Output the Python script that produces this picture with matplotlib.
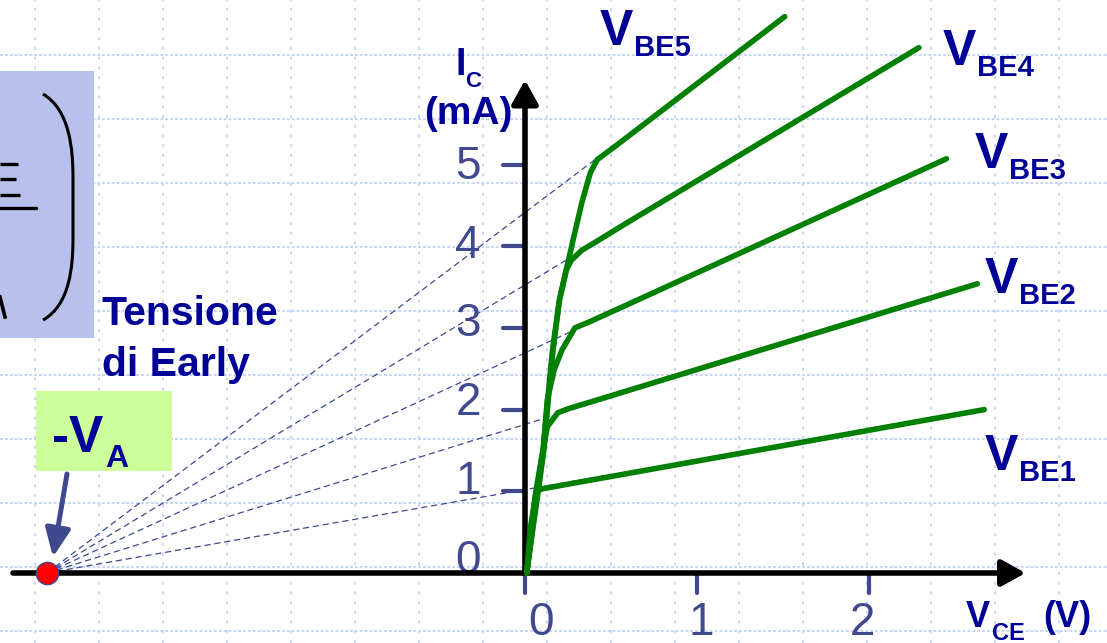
import matplotlib
matplotlib.use('Agg')
import matplotlib.pyplot as plt
import numpy as np
from matplotlib.path import Path
from matplotlib.patches import PathPatch, Rectangle

plt.rcParams['font.family'] = ['Liberation Sans', 'DejaVu Sans']

# tensione di Early (V)
VA = 2.78

# curve I_C(V_CE): V in volt, I in mA
vbe1_v = [0.01, 0.03, 0.065, 0.10, 0.23, 0.47, 2.67]
vbe1_i = [0.0, 0.53, 1.0, 1.03, 1.08, 1.17, 2.0]
vbe2_v = [0.01, 0.035, 0.065, 0.10, 0.13, 0.19, 0.25, 0.47, 2.63]
vbe2_i = [0.0, 0.53, 1.02, 1.45, 1.79, 1.96, 2.01, 2.15, 3.54]
vbe3_v = [0.01, 0.04, 0.07, 0.105, 0.13, 0.17, 0.215, 0.29, 0.37, 0.58, 2.45]
vbe3_i = [0.0, 0.53, 1.02, 1.51, 2.12, 2.49, 2.73, 3.0, 3.07, 3.27, 5.07]
vbe4_v = [0.01, 0.042, 0.075, 0.107, 0.132, 0.16, 0.2, 0.24, 0.27, 0.33, 0.41, 0.58, 2.29]
vbe4_i = [0.0, 0.53, 1.02, 1.51, 2.12, 2.73, 3.34, 3.71, 3.83, 3.95, 4.05, 4.27, 6.43]
vbe5_v = [0.01, 0.045, 0.078, 0.11, 0.135, 0.163, 0.2, 0.24, 0.28, 0.33, 0.38, 0.42, 0.51, 1.51]
vbe5_i = [0.0, 0.53, 1.02, 1.51, 2.12, 2.73, 3.34, 3.71, 4.08, 4.53, 4.9, 5.06, 5.2, 6.81]

curves_v = [vbe1_v, vbe2_v, vbe3_v, vbe4_v, vbe5_v]
curves_i = [vbe1_i, vbe2_i, vbe3_i, vbe4_i, vbe5_i]

ytick_vals = [1, 2, 3, 4, 5]
ytick_labels = ['0', '1', '2', '3', '4', '5']
xtick_vals = [0, 1, 2]
xtick_labels = ['0', '1', '2']

DARK = '#000096'
SLATE = '#404890'
GREEN = '#008000'
GRID = '#c6d5f7'

W, H = 1107, 643
fig = plt.figure(figsize=(W / 100, H / 100), dpi=100)

# sfondo e decorazioni in pixel
bg = fig.add_axes([0, 0, 1, 1])
bg.set_xlim(0, W)
bg.set_ylim(H, 0)
bg.set_xticks(np.arange(35, W, 64))
bg.set_yticks(np.arange(631, 0, -64))
bg.tick_params(length=0, labelbottom=False, labelleft=False)
for s in bg.spines.values():
    s.set_visible(False)
bg.set_axisbelow(True)
bg.xaxis.grid(True, color=GRID, lw=1.4, linestyle=(0, (1.5, 3.5)))
bg.yaxis.grid(True, color=GRID, lw=1.4, linestyle=(0, (1.5, 1.0)))

bg.add_patch(Rectangle((0, 71), 94, 267, color='#b8c1eb', lw=0))
bg.add_patch(Rectangle((36, 391), 136, 80, color='#ccff99', lw=0))

# pezzo di formula tagliato a sinistra
paren = Path([(43, 94), (70, 110), (73, 150), (73, 178), (73, 238),
              (73, 266), (70, 305), (43, 320)],
             [Path.MOVETO, Path.CURVE4, Path.CURVE4, Path.CURVE4, Path.LINETO,
              Path.CURVE4, Path.CURVE4, Path.CURVE4])
bg.add_patch(PathPatch(paren, fc='none', ec='black', lw=2.2))
for yy, xx in [(164, 18), (179, 16), (195, 20)]:
    bg.plot([0, xx], [yy, yy], color='black', lw=2.4, solid_capstyle='butt')
bg.plot([0, 36], [208, 208], color='black', lw=2.4, solid_capstyle='round')
bg.plot([0, 5], [297, 317], color='black', lw=2.6)


def sub_label(x, y, main, sub, fs, sfs, dx, dy):
    bg.text(x, y, main, fontsize=fs, fontweight='bold', color=DARK,
            ha='left', va='baseline')
    bg.annotate(sub, (x, y), xytext=(dx, dy), textcoords='offset points',
                fontsize=sfs, fontweight='bold', color=DARK,
                ha='left', va='baseline')


sub_label(600, 45, 'V', 'BE5', 36, 21, 24.5, -8)
sub_label(943, 65, 'V', 'BE4', 36, 21, 24.5, -8)
sub_label(975, 168, 'V', 'BE3', 36, 21, 24.5, -8)
sub_label(985, 293, 'V', 'BE2', 36, 21, 24.5, -8)
sub_label(985, 470, 'V', 'BE1', 36, 21, 24.5, -8)
sub_label(52, 452, '-V', 'A', 37, 23, 38, -11)
sub_label(455, 75, 'I', 'C', 27, 16, 7.5, -8.6)
sub_label(966, 627, 'V', 'CE', 26, 17, 19, -9.5)
bg.text(1043, 627, '(V)', fontsize=26, fontweight='bold', color=DARK, va='baseline')
bg.text(424, 124, '(mA)', fontsize=28, fontweight='bold', color=DARK, va='baseline')
bg.text(102, 325, 'Tensione', fontsize=29.5, fontweight='bold', color=DARK, va='baseline')
bg.text(102, 376, 'di Early', fontsize=29.5, fontweight='bold', color=DARK, va='baseline')

bg.annotate('', xy=(53, 557), xytext=(67, 474),
            arrowprops=dict(arrowstyle='-|>,head_length=0.85,head_width=0.38',
                            mutation_scale=20, lw=3.6, color=SLATE,
                            shrinkA=0, shrinkB=0))

# grafico in unita' V / mA
X0, SX, Y0, SY = 525, 172, 573, 81.7
ax = fig.add_axes([0, 0, 1, 1])
ax.patch.set_visible(False)
ax.set_xlim(-X0 / SX, (W - X0) / SX)
ax.set_ylim((Y0 - H) / SY, Y0 / SY)
ax.axis('off')

arrow_kw = dict(arrowstyle='-|>,head_length=0.72,head_width=0.4',
                mutation_scale=20, lw=4, color='black', shrinkA=0, shrinkB=0)
ax.annotate('', xy=(2.91, 0), xytext=(-2.977, 0), arrowprops=arrow_kw, zorder=4)
ax.annotate('', xy=(0, 6.034), xytext=(0, 0), arrowprops=arrow_kw, zorder=4)

for v in ytick_vals:
    ax.plot([-0.128, 0], [v, v], color=SLATE, lw=3, solid_capstyle='round', zorder=3)
for k, lab in enumerate(ytick_labels):
    ax.text(-0.33, 0.965 * k, lab, fontsize=33, color=SLATE, ha='center', va='baseline')
for v in xtick_vals:
    ax.plot([v, v], [-0.245, 0], color=SLATE, lw=3, solid_capstyle='round', zorder=3)
for k, lab in enumerate(xtick_labels):
    ax.text(0.093 + 0.933 * k, -0.76, lab, fontsize=33, color=SLATE,
            ha='center', va='baseline')

# rette di Early che partono da -VA
for cv, ci in zip(curves_v, curves_i):
    ax.plot([-VA, cv[-1]], [0, ci[-1]], color=SLATE, lw=0.9,
            linestyle=(0, (5, 3)), zorder=2)

for cv, ci in zip(curves_v, curves_i):
    ax.plot(cv, ci, color=GREEN, lw=4, solid_capstyle='round',
            solid_joinstyle='round', zorder=5)

ax.plot([-VA], [0], 'o', ms=16, mfc='#ff0000', mec=SLATE, mew=1, zorder=10)

fig.savefig('out.png', dpi=100)
